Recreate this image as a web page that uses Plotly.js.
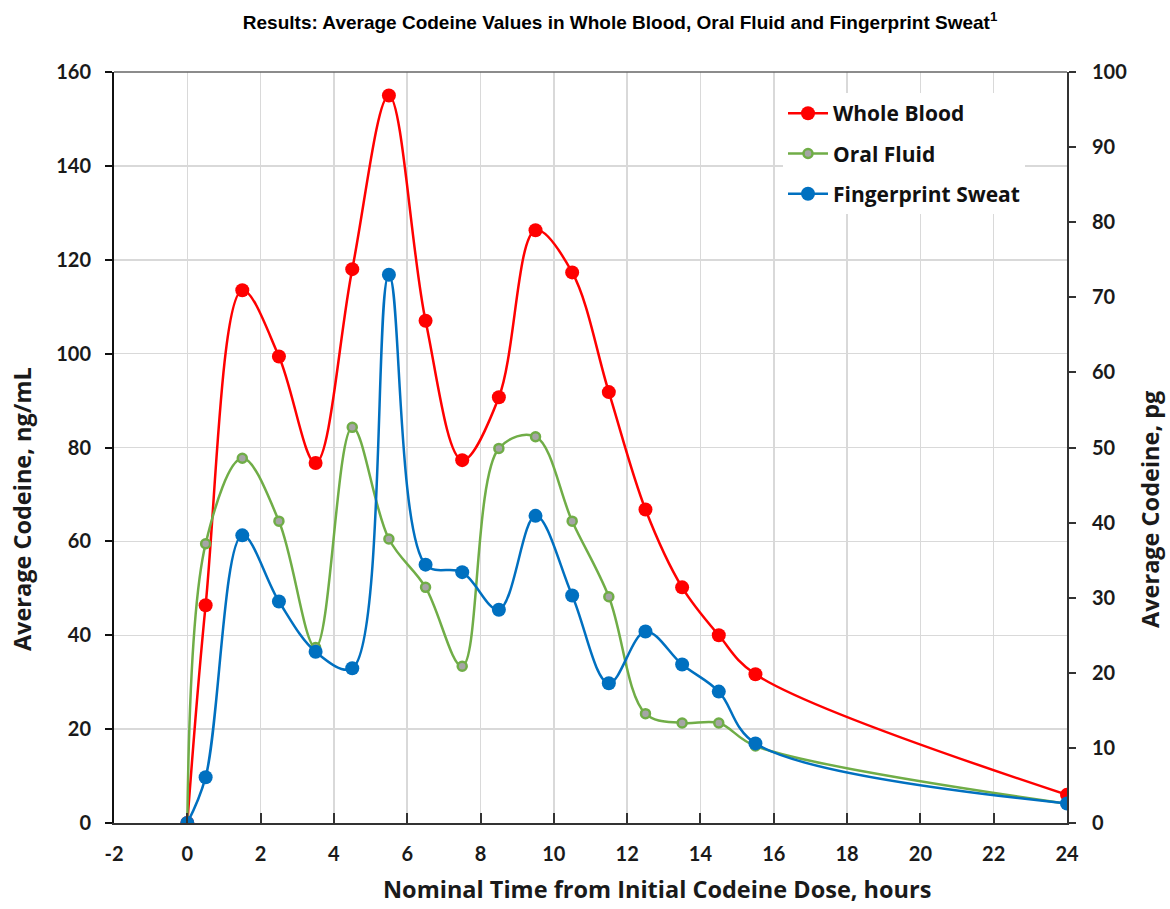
<!DOCTYPE html>
<html>
<head>
<meta charset="utf-8">
<script src="https://cdn.plot.ly/plotly-3.0.1.min.js"></script>
<style>html,body{margin:0;padding:0;background:#fff;}#chart{width:1170px;height:909px;}</style>
</head>
<body>
<div id="chart"></div>
<script>
var hours = [0, 0.5, 1.5, 2.5, 3.5, 4.5, 5.5, 6.5, 7.5, 8.5, 9.5, 10.5, 11.5, 12.5, 13.5, 14.5, 15.5, 24];
var wholeBlood = [0, 46.4, 113.5, 99.4, 76.7, 118.0, 155.0, 107.0, 77.3, 90.7, 126.3, 117.3, 91.8, 66.8, 50.2, 40.0, 31.7, 6.0];
var oralFluid = [0, 59.5, 77.7, 64.3, 37.4, 84.3, 60.5, 50.2, 33.4, 79.8, 82.3, 64.3, 48.2, 23.3, 21.3, 21.3, 16.4, 4.1];
var sweat = [0, 6.1, 38.3, 29.5, 22.8, 20.6, 73.0, 34.4, 33.4, 28.4, 40.9, 30.3, 18.6, 25.5, 21.1, 17.5, 10.6, 2.6];
var xTicks = [-2, 0, 2, 4, 6, 8, 10, 12, 14, 16, 18, 20, 22, 24];
var leftTicks = [0, 20, 40, 60, 80, 100, 120, 140, 160];
var rightTicks = [0, 10, 20, 30, 40, 50, 60, 70, 80, 90, 100];
var chartTitle = 'Results: Average Codeine Values in Whole Blood, Oral Fluid and Fingerprint Sweat';
var xTitle = 'Nominal Time from Initial Codeine Dose, hours';
var yTitle = 'Average Codeine, ng/mL';
var y2Title = 'Average Codeine, pg';

var tickFont = {family: 'Lato, "Open Sans", sans-serif', size: 20, color: '#1a1a1a', weight: 'bold'};
var titleFont = {family: '"Open Sans", Lato, sans-serif', size: 23.5, color: '#1a1a1a', weight: 'bold'};

var traces = [
  {x: hours, y: wholeBlood, name: 'Whole Blood', legendgroup: 'a', type: 'scatter', mode: 'lines+markers',
   line: {color: '#FF0000', width: 2.5, shape: 'spline', smoothing: 1},
   marker: {color: '#FF0000', size: 14}},
  {x: hours, y: oralFluid, name: 'Oral Fluid', legendgroup: 'b', type: 'scatter', mode: 'lines+markers',
   line: {color: '#70AD47', width: 2.5, shape: 'spline', smoothing: 1},
   marker: {color: '#A5A5A5', size: 9, line: {color: '#70AD47', width: 2.5}}},
  {x: hours, y: sweat, name: 'Fingerprint Sweat', legendgroup: 'c', type: 'scatter', mode: 'lines+markers', yaxis: 'y2',
   line: {color: '#0070C0', width: 2.5, shape: 'spline', smoothing: 1},
   marker: {color: '#0070C0', size: 14}}
];

var layout = {
  width: 1170, height: 909,
  margin: {l: 114, r: 103, t: 72, b: 86},
  paper_bgcolor: '#ffffff', plot_bgcolor: '#ffffff',
  title: {text: '<b>' + chartTitle + '<sup>1</sup></b>',
          font: {family: '"Liberation Sans", Arial, sans-serif', size: 19, color: '#000'},
          x: 0.53, xanchor: 'center', y: 0.975, yanchor: 'middle'},
  xaxis: {range: [-2, 24], tickvals: xTicks, ticktext: xTicks.map(String),
          showgrid: true, gridcolor: '#d9d9d9', gridwidth: 1.5, zeroline: false,
          showline: true, linecolor: '#333', linewidth: 2,
          ticks: 'inside', ticklen: 10, tickwidth: 2, tickcolor: '#333',
          tickfont: tickFont, ticklabelstandoff: 12},
  yaxis: {range: [0, 160], tickvals: leftTicks,
          showgrid: true, gridcolor: '#d9d9d9', gridwidth: 1.5, zeroline: false,
          showline: true, linecolor: '#111', linewidth: 2, mirror: false,
          ticks: 'outside', ticklen: 7, tickwidth: 2, tickcolor: '#111',
          tickfont: tickFont, ticklabelstandoff: 10},
  yaxis2: {range: [0, 100], tickvals: rightTicks, overlaying: 'y', side: 'right',
          showgrid: false, zeroline: false,
          showline: true, linecolor: '#333', linewidth: 2,
          ticks: 'outside', ticklen: 7, tickwidth: 2, tickcolor: '#333',
          tickfont: tickFont, ticklabelstandoff: 12},
  annotations: [
    {text: xTitle, xref: 'paper', yref: 'paper', x: 0.570, y: -0.088, xanchor: 'center', yanchor: 'middle',
     showarrow: false, font: titleFont},
    {text: yTitle, xref: 'paper', yref: 'paper', x: -0.0965, y: 0.418, xanchor: 'center', yanchor: 'middle',
     textangle: -90, showarrow: false, font: titleFont},
    {text: y2Title, xref: 'paper', yref: 'paper', x: 1.087, y: 0.418, xanchor: 'center', yanchor: 'middle',
     textangle: -90, showarrow: false, font: titleFont}
  ],
  shapes: [{type: 'line', xref: 'paper', yref: 'paper', x0: 0, x1: 1, y0: 1, y1: 1,
            line: {color: '#666', width: 1.5}}],
  legend: {x: 0.702, y: 0.972, xanchor: 'left', yanchor: 'top',
           bgcolor: '#ffffff', borderwidth: 0,
           font: {family: '"Open Sans", Lato, sans-serif', size: 21, color: '#111', weight: 'bold'},
           tracegroupgap: 10, itemwidth: 40},
  showlegend: true
};

Plotly.newPlot('chart', traces, layout, {displayModeBar: false, staticPlot: true});
</script>
</body>
</html>
